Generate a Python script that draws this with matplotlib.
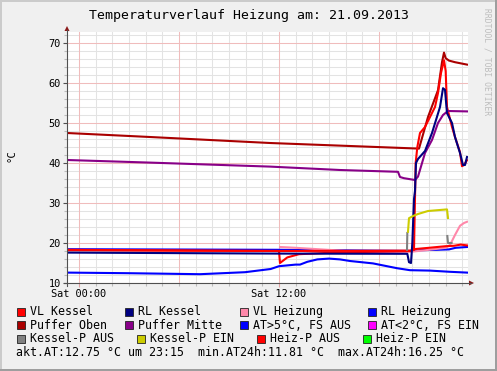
import numpy as np
import matplotlib
matplotlib.use("Agg")
import matplotlib.pyplot as plt
from matplotlib.patches import Rectangle, Polygon

nan = np.nan

# ---------------- data (hours since Sat 00:00, °C) ----------------
po_t = [-0.72, 4.26, 11.46, 20.40, 20.94, 21.54, 21.78, 21.90, 22.00, 22.20, 22.56, 23.28]
po_v = [47.5, 46.5, 45.0, 43.6, 51.5, 58.2, 65.2, 67.6, 66.2, 65.6, 65.2, 64.6]

pm_t = [-0.72, 4.26, 11.46, 15.66, 19.14, 19.26, 19.50, 20.16, 20.34, 20.76, 21.18, 21.54, 21.84, 22.14, 23.28]
pm_v = [40.75, 40.1, 39.1, 38.25, 37.8, 36.5, 36.2, 35.75, 36.6, 42.5, 45.75, 50.0, 52.0, 53.0, 52.9]

vlk_t = [-0.72, 7.26, 12.00, 12.06, 12.50, 13.20, 15.30, 19.90, 20.10, 20.20, 20.30, 20.46, 20.76,
         21.36, 21.54, 21.72, 21.90, 22.00, 22.08, 22.38, 22.56, 22.86, 22.98, 23.10, 23.28]
vlk_v = [18.3, 18.1, 18.0, 15.0, 16.4, 17.2, 17.6, 18.0, 18.3, 40.0, 44.0, 47.5, 49.0,
         54.0, 57.5, 62.5, 65.7, 63.0, 54.0, 49.0, 46.5, 42.7, 39.2, 39.5, 40.7]

rlk_t = [-0.72, 12.0, 19.70, 19.80, 19.92, 20.00, 20.10, 20.16, 20.22, 20.34, 20.76, 21.18, 21.66,
         21.84, 21.96, 22.08, 22.38, 22.56, 22.86, 23.04, 23.16, 23.28]
rlk_v = [17.6, 17.35, 17.3, 15.2, 15.0, 20.0, 31.0, 33.0, 40.0, 41.0, 43.0, 47.5, 54.0,
         58.7, 58.3, 52.5, 50.0, 46.5, 42.5, 39.5, 39.5, 41.5]

vlh_t = [12.06, 13.0, 15.3, 17.0, 19.9, 21.0, 22.0, 22.26, 22.56, 22.86, 23.10, 23.28]
vlh_v = [19.0, 18.8, 18.2, 17.7, 17.8, 18.3, 18.8, 19.5, 22.0, 24.3, 25.0, 25.3]

rlh_t = [-0.72, 12.0, 20.1, 20.5, 21.5, 22.2, 22.6, 23.28]
rlh_v = [18.45, 18.3, 18.0, 18.2, 18.3, 18.4, 18.8, 19.0]

hpa_t = [-0.72, 12.0, 19.9, 20.2, 21.0, 22.0, 22.5, 22.9, 23.28]
hpa_v = [18.2, 18.0, 18.1, 18.5, 18.8, 19.2, 19.3, 19.6, 19.4]

at_t = [-0.72, 3.0, 7.26, 9.96, 11.5, 12.0, 13.0, 13.26, 13.7, 14.3, 15.0, 15.66, 16.26, 17.64,
        19.08, 19.86, 21.06, 22.26, 23.28]
at_v = [12.6, 12.45, 12.2, 12.7, 13.5, 14.2, 14.6, 14.6, 15.3, 15.9, 16.1, 15.9, 15.5, 14.9,
        13.7, 13.2, 13.1, 12.8, 12.6]

kpe_t = [19.74, 19.80, 20.04, 20.34, 20.94, 22.08, 22.14]
kpe_v = [22.8, 26.2, 26.75, 27.25, 28.0, 28.4, 26.25]

kpa_t = [19.68, 19.70, nan, 22.10, 22.14, 22.35]
kpa_v = [18.3, 22.5, nan, 21.75, 20.0, 20.0]

x_ticks = [0, 12]
x_labels = ["Sat 00:00", "Sat 12:00"]
y_ticks = [10, 20, 30, 40, 50, 60, 70]

legend_rows = [
    [("VL Kessel", "#FF0000"), ("RL Kessel", "#000080"), ("VL Heizung", "#FF88AA"), ("RL Heizung", "#0000FF")],
    [("Puffer Oben", "#AA0000"), ("Puffer Mitte", "#880088"), ("AT>5°C, FS AUS", "#0000FF"), ("AT<2°C, FS EIN", "#FF00FF")],
    [("Kessel-P AUS", "#808080"), ("Kessel-P EIN", "#CCCC00"), ("Heiz-P AUS", "#FF0000"), ("Heiz-P EIN", "#00FF00")],
]
summary = "akt.AT:12.75 °C um 23:15  min.AT24h:11.81 °C  max.AT24h:16.25 °C"
title = "Temperaturverlauf Heizung am: 21.09.2013"

# ---------------- figure ----------------
W, H = 497, 371
fig = plt.figure(figsize=(W / 100, H / 100), dpi=100)
fig.patch.set_facecolor("#F0F0F0")
MONO = "DejaVu Sans Mono"

bg = fig.add_axes([0, 0, 1, 1], zorder=0)
bg.set_xlim(0, W); bg.set_ylim(H, 0); bg.axis("off")
bg.add_patch(Rectangle((0, 0), W, 2, color="#CBCBCB", lw=0))
bg.add_patch(Rectangle((0, 0), 2, H, color="#CBCBCB", lw=0))
bg.add_patch(Rectangle((0, H - 2), W, 2, color="#9E9E9E", lw=0))
bg.add_patch(Rectangle((W - 2, 0), 2, H, color="#9E9E9E", lw=0))

X0, X1, Y0, Y1 = 67, 468, 32, 283
ax = fig.add_axes([X0 / W, 1 - Y1 / H, (X1 - X0) / W, (Y1 - Y0) / H], zorder=1)
ax.set_facecolor("white")
ax.set_xlim(-0.72, 23.34)
ax.set_ylim(10, 72.75)
for s in ax.spines.values():
    s.set_visible(False)

# grid
for h in range(0, 24):
    major = (h % 6 == 0)
    ax.axvline(h, color="#F0BCBC" if major else "#E3E3E3", lw=0.75, zorder=0.5 if major else 0.3)
for v in range(10, 73, 2):
    major = (v % 10 == 0)
    ax.axhline(v, color="#F0BCBC" if major else "#E3E3E3", lw=0.75, zorder=0.5 if major else 0.3)

lw = 1.5
series = [
    (rlh_t, rlh_v, "#0000FF"),
    (vlh_t, vlh_v, "#FF88AA"),
    (hpa_t, hpa_v, "#FF0000"),
    (at_t, at_v, "#0000FF"),
    (po_t, po_v, "#AA0000"),
    (vlk_t, vlk_v, "#FF0000"),
    (pm_t, pm_v, "#880088"),
    (rlk_t, rlk_v, "#000080"),
    (kpa_t, kpa_v, "#808080"),
    (kpe_t, kpe_v, "#CCCC00"),
]
for t, v, c in series:
    ax.plot(t, v, color=c, lw=lw, solid_joinstyle="round", zorder=2)

ax.set_xticks(x_ticks)
ax.set_xticklabels(x_labels, fontfamily=MONO, fontsize=7.4)
ax.set_xticks(np.arange(0, 24, 1), minor=True)
ax.set_yticks(y_ticks)
ax.set_yticklabels([str(v) for v in y_ticks], fontfamily=MONO, fontsize=7.4)
ax.set_yticks(np.arange(10, 73, 2), minor=True)
ax.tick_params(axis="both", which="major", length=3, width=0.8, color="#E0A0A0", pad=1.5)
ax.tick_params(axis="both", which="minor", length=2, width=0.8, color="#BBBBBB")
ax.tick_params(axis="y", which="major", color="#505050")

# overlay: axes lines and arrows, texts
ov = fig.add_axes([0, 0, 1, 1], zorder=3)
ov.set_xlim(0, W); ov.set_ylim(H, 0); ov.axis("off"); ov.patch.set_alpha(0)
ov.plot([X0, X0], [Y1 + 3, 30], color="#505050", lw=0.8)
ov.plot([X0 - 3, 471], [Y1, Y1], color="#505050", lw=0.8)
ov.add_patch(Polygon([[X0 - 2.5, 31], [X0 + 2.5, 31], [X0, 26]], closed=True, color="#8B1A1A", lw=0))
ov.add_patch(Polygon([[469, Y1 - 2.5], [469, Y1 + 2.5], [474, Y1]], closed=True, color="#8B1A1A", lw=0))

ov.text(249, 16, title, fontfamily=MONO, fontsize=9.5, ha="center", va="center", color="black")
ov.text(12, 156, "°C", fontfamily=MONO, fontsize=7.6, rotation=90, ha="center", va="center")
ov.text(487.5, 62, "RRDTOOL / TOBI OETIKER", fontfamily=MONO, fontsize=5.8, rotation=270,
        ha="center", va="center", color="#BDBDBD")

rows_y = [311.5, 325.2, 339.0]
box_x = [[16.7, 125, 240, 368], [16.7, 125, 240, 368], [16.7, 137, 257, 363]]
for r, row in enumerate(legend_rows):
    for c, (lab, col) in enumerate(row):
        bx = box_x[r][c]
        ov.add_patch(Rectangle((bx, rows_y[r] - 4), 8, 8, facecolor=col, edgecolor="#222222", lw=0.6))
        ov.text(bx + 13.3, rows_y[r], lab, fontfamily=MONO, fontsize=8.4, ha="left", va="center")
ov.text(16.3, 352.8, summary, fontfamily=MONO, fontsize=8.4, ha="left", va="center")

fig.savefig("out.png", dpi=100, facecolor=fig.get_facecolor())
